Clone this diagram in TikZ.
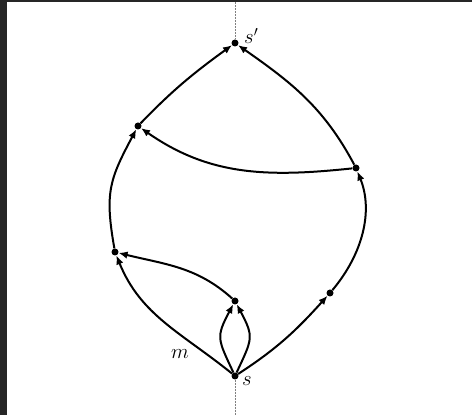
\documentclass[tikz,border=0pt]{standalone}
\usetikzlibrary{arrows.meta}
\begin{document}
\begin{tikzpicture}[x=1pt,y=1pt,
  vtx/.style={circle,fill=black,inner sep=0pt,minimum size=7pt},
  edge/.style={line width=2pt,-{Latex[length=9pt,width=7.5pt]}},
  guide/.style={densely dotted,gray,line width=0.5pt},
  lbl/.style={font=\huge,inner sep=1pt}]
\useasboundingbox (0,0) rectangle (472,415);
\fill[white] (0,0) rectangle (472,415);
\fill[black!85] (0,0) rectangle (7,415);
\fill[black!85] (0,413) rectangle (472,415);
\node[vtx] (s) at (235,39) {};
\node[vtx] (sp) at (235,372) {};
\node[vtx] (A) at (138,289) {};
\node[vtx] (B) at (356,247) {};
\node[vtx] (C) at (115,163) {};
\node[vtx] (D) at (235,114) {};
\node[vtx] (E) at (330,122) {};
\coordinate (gt) at (235,413);
\coordinate (gb) at (235,0);
\draw[guide] (gt) -- (sp);
\draw[guide] (s) -- (gb);
\node[lbl,anchor=west] (ls) at (241,34) {$s$};
\node[lbl,anchor=west] (lsp) at (243,379) {$s'$};
\node[lbl] (lm) at (180,61) {$m$};
\draw[edge] (s) to[out=141,in=-68] (C);
\draw[edge] (s) to[out=115,in=242,looseness=1.4] (D);
\draw[edge] (s) to[out=65,in=298,looseness=1.4] (D);
\draw[edge] (D) to[out=138,in=-14] (C);
\draw[edge] (C) to[out=100,in=242,looseness=1.2] (A);
\draw[edge] (s) to[out=33,in=228] (E);
\draw[edge] (E) to[out=50,in=292,in looseness=0.9] (B);
\draw[edge] (B) to[out=186,in=-35] (A);
\draw[edge] (A) to[out=46,in=216] (sp);
\draw[edge] (B) to[out=118,in=-35] (sp);
\end{tikzpicture}
\end{document}
